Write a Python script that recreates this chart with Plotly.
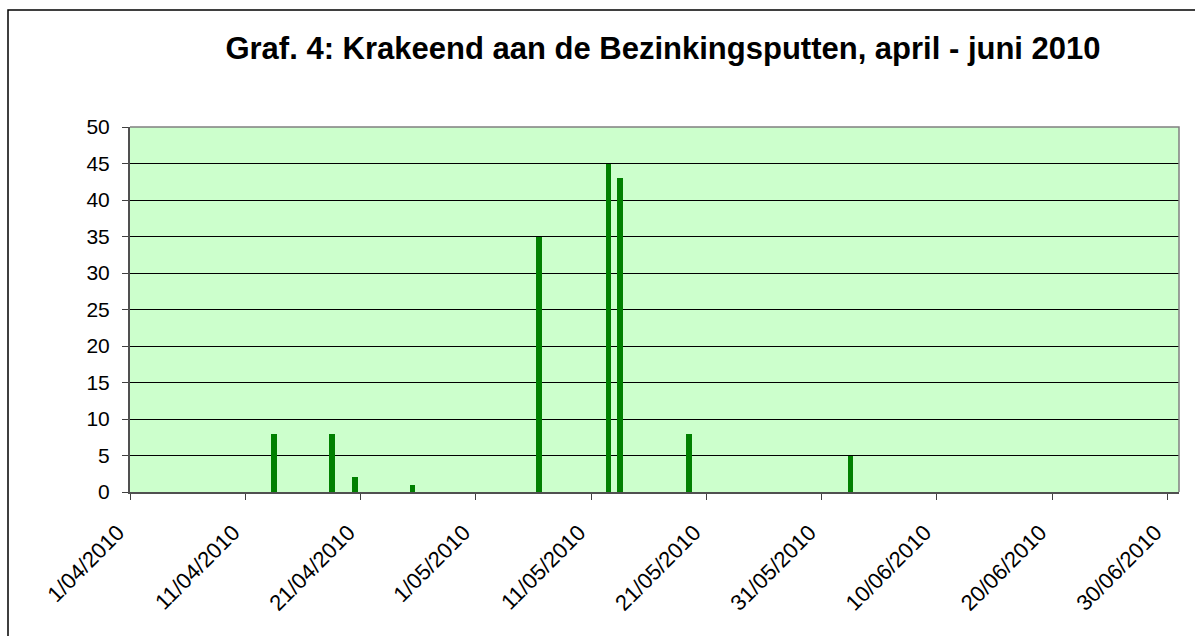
import plotly.graph_objects as go

dates = ["2010-04-13", "2010-04-18", "2010-04-20", "2010-04-25", "2010-05-06",
         "2010-05-12", "2010-05-13", "2010-05-19", "2010-06-02"]
counts = [8, 8, 2, 1, 35, 45, 43, 8, 5]

tick_dates = ["2010-04-01", "2010-04-11", "2010-04-21", "2010-05-01", "2010-05-11",
              "2010-05-21", "2010-05-31", "2010-06-10", "2010-06-20", "2010-06-30"]
tick_labels = ["1/04/2010", "11/04/2010", "21/04/2010", "1/05/2010", "11/05/2010",
               "21/05/2010", "31/05/2010", "10/06/2010", "20/06/2010", "30/06/2010"]
y_ticks = list(range(0, 51, 5))

FONT = "Liberation Sans, Arial, sans-serif"

fig = go.Figure()
fig.add_trace(go.Bar(
    x=dates, y=counts,
    xperiod=86400000, xperiodalignment="middle",
    width=43200000,
    marker=dict(color="#008000", line=dict(width=0)),
    showlegend=False,
))

L, R, T, B = 130, 1179, 127, 492
W, H = 1195, 636
pw, ph = R - L, B - T

fig.update_layout(
    width=W, height=H,
    margin=dict(l=L, r=W - R, t=T, b=H - B, autoexpand=False),
    paper_bgcolor="white",
    plot_bgcolor="#CCFFCC",
    font=dict(family=FONT, size=21, color="black"),
    title=dict(
        text="<b>Graf. 4: Krakeend aan de Bezinkingsputten, april - juni 2010</b>",
        x=663 / W, xanchor="center",
        y=1 - 48 / H, yanchor="middle",
        font=dict(family=FONT, size=31, color="black"),
    ),
    bargap=0,
)

fig.update_xaxes(
    type="date",
    range=["2010-04-01", "2010-07-01"],
    tickmode="array", tickvals=tick_dates, ticktext=tick_labels,
    tickangle=-45,
    ticks="outside", ticklen=6, tickcolor="#404040", tickwidth=1,
    ticklabelstandoff=11,
    ticklabelshift=-12,
    showgrid=False, zeroline=False,
    showline=True, linecolor="#505050", linewidth=2, mirror=False,
    tickfont=dict(family=FONT, size=22, color="black"),
)
fig.update_yaxes(
    range=[0, 50],
    tickmode="array", tickvals=y_ticks,
    ticks="outside", ticklen=6, tickcolor="#404040", tickwidth=1,
    ticklabelstandoff=8,
    showgrid=True, gridcolor="black", gridwidth=1,
    zeroline=False,
    showline=True, linecolor="#505050", linewidth=2,
    tickfont=dict(family=FONT, size=21, color="black"),
)

# plot area top/right border (gray)
fig.add_shape(type="path", xref="paper", yref="paper",
              path="M 0 1 L 1 1 L 1 0",
              line=dict(color="#808080", width=1.5))

# outer chart border (left and top, cropped on right/bottom)
lx = (8 - L) / pw
ty = (B - 10) / ph
fig.add_shape(type="path", xref="paper", yref="paper",
              path=f"M {lx} {(B - 700) / ph} L {lx} {ty} L {(1300 - L) / pw} {ty}",
              line=dict(color="black", width=1.5))

fig.write_html(
    "out.html",
    config={"displayModeBar": False},
    post_script="document.body.style.margin='0';document.body.style.overflow='hidden';",
)
